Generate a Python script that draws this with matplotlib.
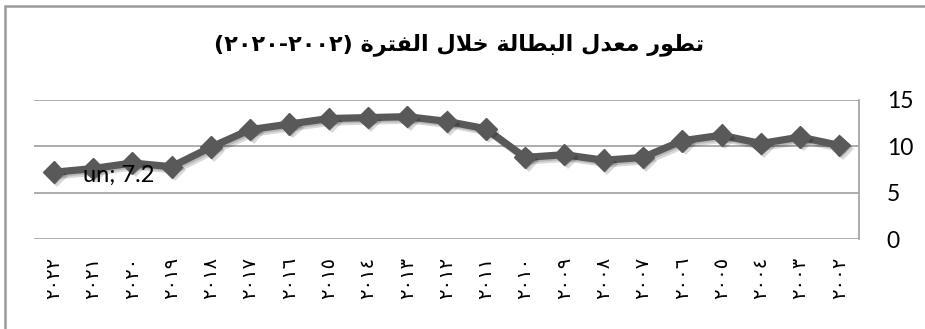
import matplotlib
matplotlib.use("Agg")
import matplotlib.pyplot as plt
import matplotlib.patheffects as pe
from matplotlib.patches import Rectangle

# ---------------- data ----------------
years = [2002, 2003, 2004, 2005, 2006, 2007, 2008, 2009, 2010, 2011, 2012,
         2013, 2014, 2015, 2016, 2017, 2018, 2019, 2020, 2021, 2022]
unemployment = [10.1, 11.0, 10.3, 11.2, 10.6, 8.8, 8.5, 9.1, 8.8, 11.9, 12.7,
                13.2, 13.1, 13.0, 12.4, 11.8, 9.9, 7.8, 8.2, 7.6, 7.2]
series_name = "un"
labelled_year = 2022
y_ticks = [0, 5, 10, 15]
title_words = ["تطور", "معدل", "البطالة", "خلال", "الفترة"]
title_period = ("٢٠٠٢", "٢٠٢٠")

AR_DIGITS = str.maketrans("0123456789", "٠١٢٣٤٥٦٧٨٩")
x_labels = [str(y).translate(AR_DIGITS) for y in years]

# ------------- minimal Arabic shaping (matplotlib has no bidi/shaping) -------------
FORMS = {  # isolated, final, initial, medial
    "ا": ("\uFE8D", "\uFE8E", None, None),
    "ب": ("\uFE8F", "\uFE90", "\uFE91", "\uFE92"),
    "ة": ("\uFE93", "\uFE94", None, None),
    "ت": ("\uFE95", "\uFE96", "\uFE97", "\uFE98"),
    "خ": ("\uFEA5", "\uFEA6", "\uFEA7", "\uFEA8"),
    "د": ("\uFEA9", "\uFEAA", None, None),
    "ر": ("\uFEAD", "\uFEAE", None, None),
    "ط": ("\uFEC1", "\uFEC2", "\uFEC3", "\uFEC4"),
    "ع": ("\uFEC9", "\uFECA", "\uFECB", "\uFECC"),
    "ف": ("\uFED1", "\uFED2", "\uFED3", "\uFED4"),
    "ل": ("\uFEDD", "\uFEDE", "\uFEDF", "\uFEE0"),
    "م": ("\uFEE1", "\uFEE2", "\uFEE3", "\uFEE4"),
    "و": ("\uFEED", "\uFEEE", None, None),
    "لا": ("\uFEFB", "\uFEFC", None, None),
}


def shape_word(word):
    toks = []
    i = 0
    while i < len(word):
        if word[i] == "ل" and i + 1 < len(word) and word[i + 1] == "ا":
            toks.append("لا")
            i += 2
        else:
            toks.append(word[i])
            i += 1
    out = []
    for k, t in enumerate(toks):
        iso, fin, ini, med = FORMS[t]
        jp = k > 0 and FORMS[toks[k - 1]][2] is not None
        jn = k < len(toks) - 1 and ini is not None
        if jp and jn:
            g = med
        elif jp:
            g = fin
        elif jn:
            g = ini
        else:
            g = iso
        out.append(g)
    return "".join(reversed(out))


title_visual = ("(" + title_period[1] + "-" + title_period[0] + ") "
                + " ".join(shape_word(w) for w in reversed(title_words)))

# ---------------- figure ----------------
W, H = 925, 329
fig = plt.figure(figsize=(W / 100, H / 100), dpi=100)
fig.patch.set_facecolor("white")
fig.add_artist(Rectangle((5 / W, -0.2), 1.5, 1.2 - 6 / H, transform=fig.transFigure,
                         fill=False, edgecolor="#9a9a9a", lw=1.8))

ax = fig.add_axes([34 / W, 1 - 239 / H, (859 - 34) / W, (239 - 100) / H])
x = list(range(len(years)))
line_col = "#595959"

ax.plot(x, unemployment, color=line_col, lw=5.2, solid_joinstyle="round", zorder=3,
        path_effects=[pe.SimpleLineShadow(offset=(2.5, -2.5), shadow_color="k", alpha=0.15),
                      pe.SimpleLineShadow(offset=(1.2, -1.2), shadow_color="k", alpha=0.15),
                      pe.Normal()])
ax.plot(x, unemployment, ls="none", marker="D", ms=11, mfc=line_col, mec=line_col,
        zorder=4,
        path_effects=[pe.SimplePatchShadow(offset=(2.5, -2.5), shadow_rgbFace="k", alpha=0.15),
                      pe.SimplePatchShadow(offset=(1.2, -1.2), shadow_rgbFace="k", alpha=0.15),
                      pe.Normal()])

ax.set_xlim(len(years) - 0.5, -0.5)
ax.set_ylim(y_ticks[0], y_ticks[-1])
ax.set_yticks(y_ticks)
ax.yaxis.tick_right()
ax.set_xticks(x)
ax.set_xticklabels(x_labels, rotation=90, fontsize=14, family=["DejaVu Sans"])
ax.tick_params(axis="x", length=0, pad=13)
ax.tick_params(axis="y", length=0, pad=20, labelsize=16.5)
for lab in ax.get_yticklabels():
    lab.set_family(["Lato", "DejaVu Sans"])
    lab.set_horizontalalignment("left")

ax.grid(axis="y", color="#a6a6a6", lw=1.3)
ax.set_axisbelow(True)
for s in ["top", "left", "bottom"]:
    ax.spines[s].set_visible(False)
ax.spines["right"].set_color("#a6a6a6")
ax.spines["right"].set_linewidth(1.3)

idx = years.index(labelled_year)
ax.annotate(f"{series_name}; {unemployment[idx]}", xy=(idx, unemployment[idx]),
            xytext=(21, -2), textcoords="offset points", ha="left", va="center",
            fontsize=17, family=["Lato", "DejaVu Sans"], color="black", zorder=6)

fig.text(459 / W, 1 - 45 / H, title_visual, ha="center", va="center",
         fontsize=16, weight="bold", family=["DejaVu Sans"])

fig.savefig("out.png", dpi=100)
